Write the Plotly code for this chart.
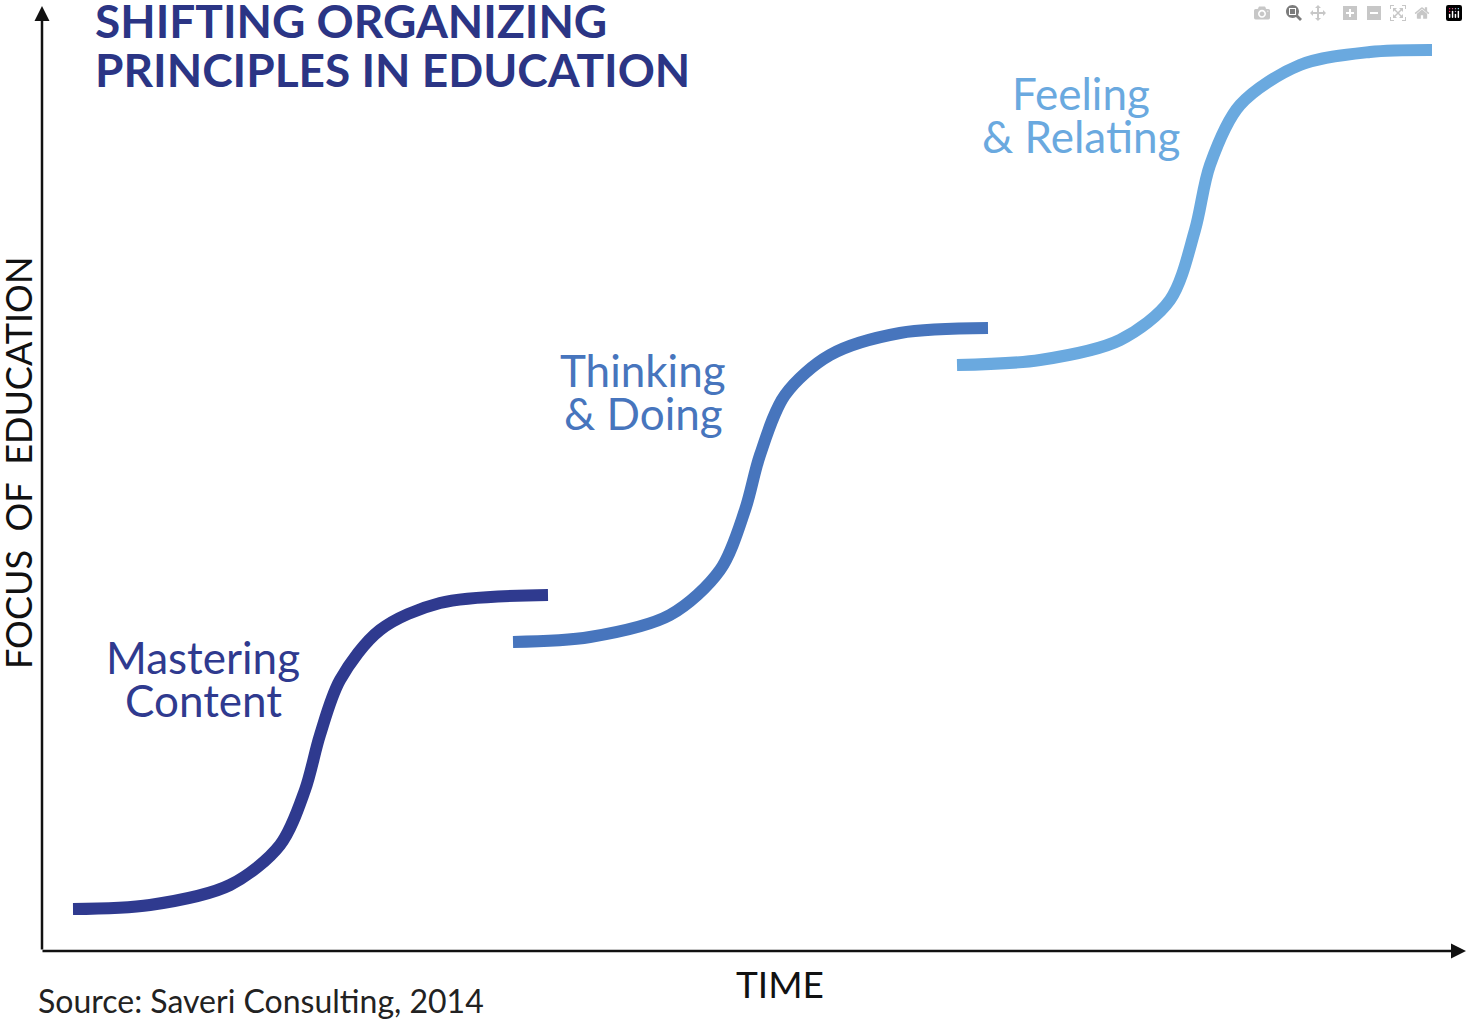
import plotly.graph_objects as go

# curves, in image pixel coordinates
mastering_x = [73, 150, 230, 280, 305, 320, 340, 380, 440, 548]
mastering_y = [909, 905, 885, 845, 790, 735, 680, 630, 603, 595]
thinking_x = [513, 590, 670, 720, 745, 760, 785, 830, 900, 988]
thinking_y = [642, 637, 615, 570, 510, 455, 395, 355, 333, 328]
feeling_x = [957, 1040, 1120, 1170, 1195, 1210, 1240, 1300, 1370, 1432]
feeling_y = [365, 360, 340, 300, 230, 165, 105, 65, 52, 50]

series = [
    (mastering_x, mastering_y, "#2f3a8f", ["Mastering", "Content"], 203, [657, 700]),
    (thinking_x, thinking_y, "#4775bd", ["Thinking", "& Doing"], 643, [370, 413]),
    (feeling_x, feeling_y, "#6aa9df", ["Feeling", "& Relating"], 1081, [93, 136]),
]

FONT = "Lato"
fig = go.Figure()
for xs, ys, color, lines, lx, lys in series:
    fig.add_trace(go.Scatter(x=xs, y=ys, mode="lines", line=dict(color=color, width=12, shape="spline", smoothing=0.9),
                             hoverinfo="skip", showlegend=False))
    for text, ly in zip(lines, lys):
        fig.add_annotation(x=lx, y=ly, text=text, showarrow=False, font=dict(family=FONT, size=44, color=color),
                           yanchor="middle", xanchor="center")

# axes with arrows
fig.add_annotation(x=42, y=6, ax=42, ay=951, xref="x", yref="y", axref="x", ayref="y", showarrow=True,
                   arrowhead=2, arrowsize=1.2, arrowwidth=2.5, arrowcolor="#111", text="")
fig.add_annotation(x=1466, y=951, ax=41, ay=951, xref="x", yref="y", axref="x", ayref="y", showarrow=True,
                   arrowhead=2, arrowsize=1.2, arrowwidth=2.5, arrowcolor="#111", text="")

for text, ty in zip(["SHIFTING ORGANIZING", "PRINCIPLES IN EDUCATION"], [20, 69]):
    fig.add_annotation(x=93, y=ty, text="<b>" + text + "</b>", showarrow=False, xanchor="left", yanchor="middle",
                       font=dict(family=FONT, size=46, color="#2b3585"))
fig.add_annotation(x=18, y=463, text="FOCUS  OF  EDUCATION", textangle=-90, showarrow=False,
                   font=dict(family=FONT, size=36, color="#111"))
fig.add_annotation(x=780, y=983, text="TIME", showarrow=False, font=dict(family=FONT, size=37, color="#111"))
fig.add_annotation(x=36, y=1000, text="Source: Saveri Consulting, 2014", showarrow=False, xanchor="left",
                   yanchor="middle", font=dict(family=FONT, size=32, color="#222"))

fig.update_xaxes(range=[0, 1468], visible=False)
fig.update_yaxes(range=[1021, 0], visible=False)
fig.update_layout(width=1468, height=1021, margin=dict(l=0, r=0, t=0, b=0),
                  plot_bgcolor="white", paper_bgcolor="white")
fig.write_html("out.html", post_script="document.body.style.margin='0';")
